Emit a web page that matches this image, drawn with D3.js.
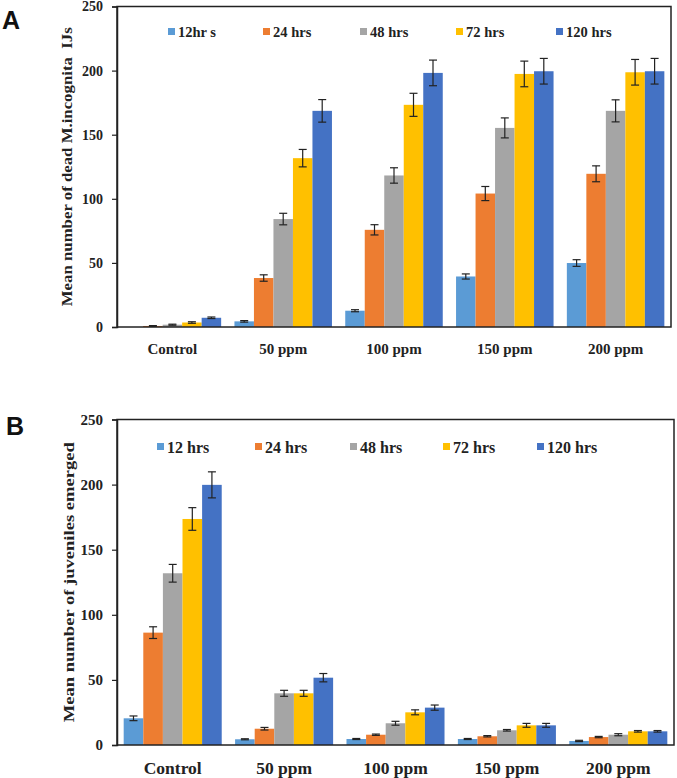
<!DOCTYPE html>
<html><head><meta charset="utf-8">
<script src="https://cdn.jsdelivr.net/npm/d3@7"></script>
<style>body{margin:0;background:#fff}svg{display:block}</style>
</head><body><svg id="c" width="677" height="778"></svg>
<script>
const categories = ["Control","50 ppm","100 ppm","150 ppm","200 ppm"];
const seriesA = ["12hr s","24 hrs","48 hrs","72 hrs","120 hrs"];
const seriesB = ["12 hrs","24 hrs","48 hrs","72 hrs","120 hrs"];
const colors = ["#5B9BD5","#ED7D31","#A5A5A5","#FFC000","#4472C4"];
const yTicks = [0,50,100,150,200,250];
// Panel A: mean dead M. incognita IJs, [series][category]
const valuesA = [
  [0, 4.4, 12.7, 39.4, 49.9],
  [0.8, 38.2, 75.8, 104.1, 119.5],
  [1.8, 84.2, 118.2, 155.3, 168.6],
  [3.5, 131.7, 173.3, 197.4, 198.7],
  [7.2, 168.6, 198.2, 199.5, 199.5]
];
const errorsA = [
  [0, 0.6, 0.8, 2, 2.6],
  [0.3, 2.5, 4, 5.5, 6.2],
  [0.4, 4.5, 6, 7.8, 8.6],
  [0.6, 6.8, 9, 10, 10],
  [0.6, 8.8, 10, 10, 10]
];
// Panel B: mean juveniles emerged
const valuesB = [
  [20.5, 4.4, 4.6, 4.6, 3.1],
  [86.3, 12.5, 7.9, 6.7, 6.1],
  [131.9, 39.7, 16.7, 11.3, 7.9],
  [173.6, 39.7, 25.1, 15.1, 10.5],
  [199.8, 51.7, 28.7, 15.1, 10.5]
];
const errorsB = [
  [1.8, 0.4, 0.4, 0.4, 0.5],
  [4.5, 1, 0.5, 0.5, 0.5],
  [6.8, 2.3, 1.5, 0.6, 0.8],
  [8.7, 2.3, 1.9, 1.5, 0.6],
  [10, 3.2, 2, 1.5, 0.6]
];

const svg = d3.select("#c");
const serif = "'Liberation Serif','Times New Roman',serif";

function panel(o){
  const g = svg.append("g");
  const x = d3.scaleBand().domain(categories).range([o.x0,o.x1]).paddingInner(0.12).paddingOuter(0.06);
  const xs = d3.scaleBand().domain(d3.range(5)).range([0,x.bandwidth()]);
  const y = d3.scaleLinear().domain([0,250]).range([o.y0,o.y1]);
  // bars
  o.values.forEach((arr,si)=>{
    const sg = g.append("g");
    sg.selectAll("rect").data(arr).join("rect")
      .attr("x",(d,ci)=>x(categories[ci])+xs(si))
      .attr("y",d=>y(d))
      .attr("width",xs.bandwidth())
      .attr("height",d=>y(0)-y(d))
      .attr("fill",colors[si]);
    // error bars
    const eg = g.append("g").attr("stroke","#222").attr("stroke-width",1.2);
    arr.forEach((d,ci)=>{
      const e = o.errors[si][ci];
      if(!(e>0) || d<=0) return;
      const cx = x(categories[ci])+xs(si)+xs.bandwidth()/2;
      eg.append("line").attr("x1",cx).attr("x2",cx).attr("y1",y(d+e)).attr("y2",y(d-e));
      eg.append("line").attr("x1",cx-4).attr("x2",cx+4).attr("y1",y(d+e)).attr("y2",y(d+e));
      eg.append("line").attr("x1",cx-4).attr("x2",cx+4).attr("y1",y(d-e)).attr("y2",y(d-e));
    });
  });
  // frame
  g.append("rect").attr("x",o.x0).attr("y",y(250)).attr("width",o.x1-o.x0).attr("height",y(0)-y(250))
    .attr("fill","none").attr("stroke","#222").attr("stroke-width",1.5);
  // y axis
  const ya = g.append("g").attr("transform",`translate(${o.x0},0)`)
    .call(d3.axisLeft(y).tickValues(yTicks).tickSize(5).tickPadding(9));
  ya.select(".domain").attr("stroke","#222").attr("stroke-width",1.5);
  ya.selectAll(".tick line").attr("stroke","#222").attr("stroke-width",1.2);
  ya.selectAll("text").attr("font-family",serif).attr("font-weight","bold").attr("font-size",o.tickFont).attr("fill","#222");
  // x axis labels
  const xa = g.append("g").attr("transform",`translate(0,${o.y0})`)
    .call(d3.axisBottom(x).tickSize(0).tickPadding(o.xPad));
  xa.select(".domain").remove();
  xa.selectAll("text").attr("font-family",serif).attr("font-weight","bold").attr("font-size",o.xFont).attr("fill","#222");
  // y title
  g.append("text").attr("transform",`translate(${o.titleX},${(y(0)+y(250))/2}) rotate(-90)`)
    .attr("text-anchor","middle").attr("font-family",serif).attr("font-weight","bold")
    .attr("font-size",o.titleFont).attr("fill","#222").attr("xml:space","preserve")
    .attr("textLength",o.titleLen).attr("lengthAdjust","spacingAndGlyphs")
    .text(o.title);
  // legend
  const lg = g.append("g");
  o.series.forEach((s,i)=>{
    const lx = o.legX[i];
    lg.append("rect").attr("x",lx).attr("y",o.legY-4).attr("width",7).attr("height",7).attr("fill",colors[i]);
    lg.append("text").attr("x",lx+10).attr("y",o.legY).attr("dy","0.35em")
      .attr("font-family",serif).attr("font-weight","bold").attr("font-size",o.legFont).attr("fill","#222")
      .text(s);
  });
  // panel letter
  g.append("text").attr("x",o.letterX).attr("y",o.letterY).attr("font-family","'Liberation Sans',Arial,sans-serif")
    .attr("font-weight","bold").attr("font-size",25).attr("fill","#111").text(o.letter);
}

panel({x0:117,x1:671,y0:327,y1:6.5,values:valuesA,errors:errorsA,series:seriesA,
  legX:[168,263,360,456,556],legY:32,legFont:14.5,tickFont:14,xFont:15,xPad:16,
  title:"Mean number of dead M.incognita  IJs",titleX:72,titleFont:14,titleLen:279,
  letter:"A",letterX:2,letterY:29});
panel({x0:117,x1:674,y0:745,y1:419.5,values:valuesB,errors:errorsB,series:seriesB,
  legX:[157,255,350,443,537],legY:447,legFont:16,tickFont:15,xFont:17.5,xPad:17,
  title:"Mean number of juveniles emerged",titleX:74,titleFont:15,titleLen:280,
  letter:"B",letterX:6,letterY:435});
</script></body></html>
